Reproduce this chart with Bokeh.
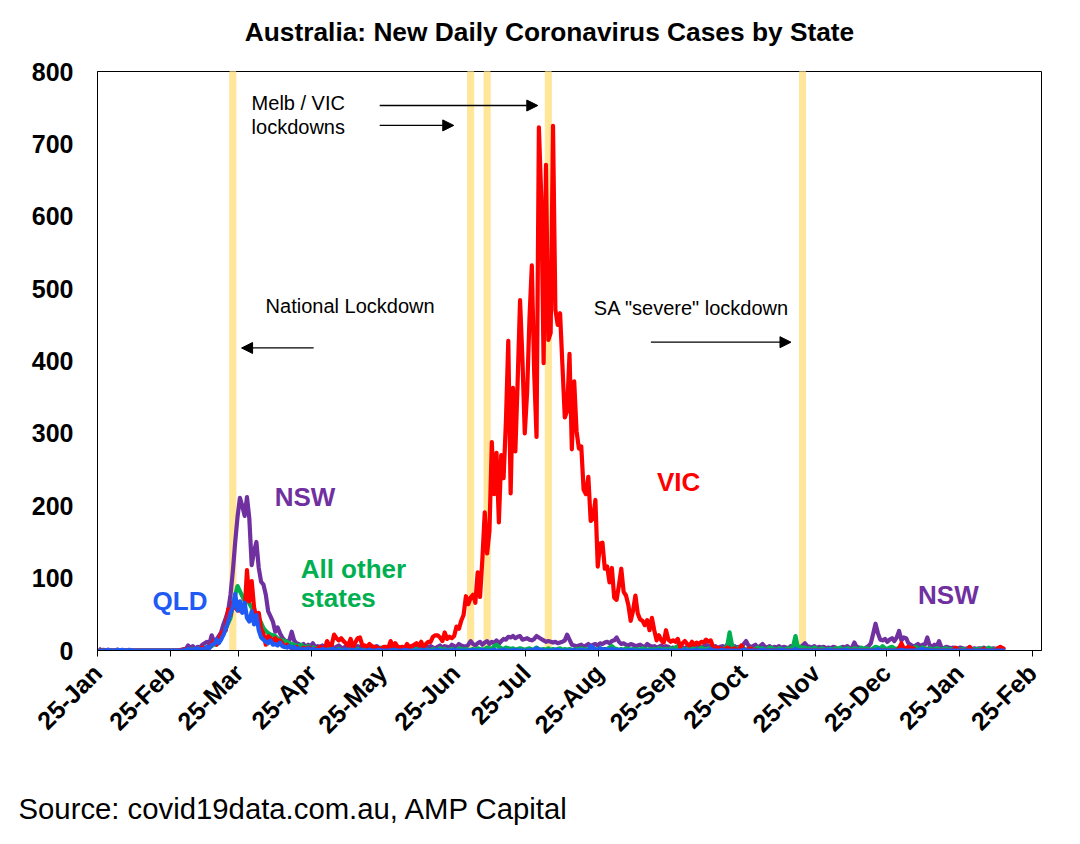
import numpy as np
import pandas as pd
from bokeh.plotting import figure
from bokeh.layouts import column
from bokeh.models import (Range1d, FixedTicker, DatetimeTickFormatter, Label,
                          Arrow, NormalHead)
from bokeh.embed import file_html
from bokeh.resources import INLINE

START = "2020-01-25"

# Daily new cases, one row per month (Jan-2020 row starts on 25-Jan)
vic = [
    1, 0, 0, 0, 1, 0, 0,
    0, 1, 0, 0, 0, 0, 0, 0, 0, 0, 0, 0, 0, 0, 0, 0, 0, 0, 0, 0, 0, 0, 0, 0, 0, 0, 0, 0, 1,
    0, 2, 1, 1, 1, 1, 3, 1, 4, 3, 2, 5, 9, 13, 8, 14, 23, 27, 28, 57, 49, 67, 59, 56, 55, 54, 54, 111, 68, 96, 60,
    45, 52, 30, 23, 8, 20, 17, 13, 17, 12, 14, 10, 5, 8, 5, 3, 3, 5, 2, 1, 4, 1, 4, 3, 1, 2, 2, 5, 3, 2,
    13, 7, 8, 22, 17, 14, 17, 13, 10, 7, 16, 5, 11, 17, 18, 7, 7, 5, 9, 6, 5, 4, 3, 1, 5, 5, 3, 13, 5, 10, 5,
    4, 5, 3, 9, 4, 6, 8, 10, 7, 12, 5, 9, 12, 12, 19, 21, 21, 18, 13, 25, 16, 19, 17, 20, 33, 30, 41, 49, 75, 64,
    73, 77, 66, 108, 74, 127, 191, 134, 165, 288, 216, 273, 177, 270, 238, 317, 428, 217, 363, 275,
    374, 484, 403, 300, 357, 459, 532, 384, 295, 723, 627,
    397, 671, 429, 439, 725, 471, 450, 466, 394, 322, 331, 410, 278, 372, 303, 279, 282, 222, 216, 240,
    179, 182, 208, 116, 148, 149, 113, 116, 94, 114, 73,
    70, 90, 113, 81, 76, 63, 41, 55, 76, 51, 43, 41, 35, 42, 28, 45, 28, 14, 21, 14, 11, 28, 15, 12, 14, 12, 16, 5, 10, 13,
    9, 7, 12, 8, 11, 9, 12, 11, 15, 12, 14, 5, 1, 4, 2, 2, 1, 4, 2, 1, 3, 1, 1, 7, 0, 0, 2, 3, 0, 1, 0,
    0, 0, 0, 0, 0, 0, 0, 0, 0, 0, 0, 0, 0, 0, 0, 0, 0, 0, 0, 0, 0, 0, 0, 0, 0, 0, 0, 0, 0, 0,
    0, 0, 0, 0, 0, 0, 0, 0, 0, 0, 0, 0, 0, 0, 0, 0, 0, 0, 0, 0, 0, 0, 0, 0, 0, 0, 0, 0, 0, 3, 10,
    3, 3, 5, 3, 3, 1, 0, 1, 0, 1, 1, 0, 0, 0, 0, 0, 0, 0, 0, 0, 0, 0, 4, 1, 0, 0, 0, 0, 5, 0, 0,
    0, 0, 1, 2, 0, 0, 0, 0, 1, 3, 5, 3, 1,
]

nsw = [
    3, 0, 1, 0, 0, 0, 0,
    0, 0, 0, 0, 0, 0, 0, 0, 0, 0, 0, 0, 0, 0, 0, 0, 0, 0, 0, 0, 0, 0, 0, 0, 0, 0, 0, 0, 0,
    2, 2, 7, 3, 6, 2, 5, 4, 8, 10, 12, 9, 21, 12, 15, 20, 25, 36, 45, 55, 77, 110, 150, 185, 211, 200, 186, 212, 182, 118, 137,
    150, 114, 95, 91, 77, 54, 47, 40, 26, 32, 24, 18, 14, 12, 14, 26, 14, 10, 9, 6, 9, 5, 8, 6, 10, 4, 6, 5, 7, 4,
    8, 4, 6, 3, 5, 7, 4, 3, 6, 5, 2, 4, 3, 6, 5, 2, 3, 4, 2, 5, 3, 6, 4, 3, 2, 4, 5, 3, 6, 4, 3,
    4, 2, 3, 5, 4, 6, 3, 4, 5, 3, 4, 2, 5, 6, 4, 3, 5, 7, 4, 6, 5, 4, 8, 6, 5, 9, 7, 6, 5, 8,
    13, 9, 7, 10, 12, 8, 11, 13, 9, 12, 10, 14, 9, 13, 16, 15, 19, 18, 20, 17, 19, 20, 15, 16, 17, 15, 14, 16, 20, 18, 16,
    14, 12, 13, 12, 11, 12, 10, 11, 12, 14, 22, 15, 8, 7, 6, 7, 8, 5, 7, 9, 6, 8, 9, 7, 10, 9, 11, 12, 10, 13, 14,
    18, 12, 9, 10, 8, 7, 9, 8, 6, 7, 8, 6, 5, 9, 7, 5, 6, 4, 5, 7, 4, 6, 5, 3, 4, 2, 5, 3, 4, 3,
    5, 4, 6, 3, 5, 7, 4, 6, 8, 5, 7, 4, 6, 3, 5, 6, 4, 8, 5, 7, 6, 4, 5, 3, 9, 13, 7, 5, 6, 8, 4,
    6, 9, 5, 4, 6, 3, 5, 4, 6, 3, 5, 4, 3, 6, 4, 5, 3, 4, 7, 10, 6, 5, 4, 6, 3, 5, 4, 5, 3, 4,
    3, 5, 4, 2, 3, 5, 4, 6, 3, 4, 11, 5, 4, 3, 2, 4, 6, 10, 23, 37, 24, 15, 14, 16, 12, 15, 17, 13, 18, 27, 14,
    18, 17, 10, 8, 5, 7, 9, 6, 8, 8, 18, 7, 5, 8, 6, 13, 4, 3, 5, 4, 3, 4, 2, 3, 4, 3, 2, 3, 4, 2, 3,
    2, 3, 2, 4, 2, 3, 2, 3, 2, 3, 2, 2, 3,
]

qld = [
    0, 0, 0, 0, 1, 0, 0,
    0, 1, 0, 1, 0, 0, 1, 0, 0, 0, 0, 0, 0, 0, 0, 0, 0, 0, 0, 0, 0, 0, 0, 0, 0, 0, 0, 0, 0,
    0, 1, 2, 1, 1, 2, 3, 1, 2, 2, 5, 3, 8, 9, 15, 10, 15, 22, 30, 40, 52, 60, 78, 55, 68, 52, 66, 45, 40, 54, 36,
    49, 28, 18, 15, 12, 10, 14, 8, 9, 7, 11, 6, 5, 4, 6, 3, 5, 2, 3, 1, 2, 1, 3, 1, 2, 1, 1, 0, 2, 1,
    1, 0, 2, 1, 0, 1, 0, 0, 1, 0, 0, 1, 0, 0, 1, 0, 0, 0, 1, 0, 0, 0, 1, 0, 0, 0, 0, 0, 1, 0, 0,
    0, 0, 1, 0, 0, 0, 0, 0, 0, 0, 1, 0, 0, 0, 0, 0, 1, 0, 0, 0, 0, 0, 0, 1, 0, 0, 0, 0, 0, 0,
    0, 1, 0, 0, 0, 1, 0, 0, 0, 0, 1, 0, 0, 0, 1, 0, 0, 0, 0, 1, 0, 0, 0, 0, 0, 0, 1, 0, 3, 1, 1,
    0, 0, 0, 0, 0, 1, 1, 0, 0, 0, 0, 0, 0, 1, 0, 0, 1, 0, 0, 0, 6, 4, 0, 1, 3, 1, 2, 1, 1, 2, 1,
    1, 0, 1, 0, 0, 0, 1, 0, 0, 0, 0, 0, 0, 0, 0, 0, 0, 0, 1, 0, 0, 0, 0, 0, 0, 0, 0, 0, 0, 1,
    0, 0, 0, 0, 1, 0, 0, 0, 0, 0, 2, 0, 0, 0, 0, 1, 0, 0, 0, 0, 0, 0, 0, 0, 1, 0, 0, 0, 0, 0, 0,
    0, 1, 0, 0, 0, 0, 0, 0, 0, 1, 0, 0, 0, 0, 0, 2, 0, 0, 0, 0, 0, 0, 0, 0, 0, 0, 0, 0, 0, 1,
    0, 0, 0, 0, 0, 0, 1, 0, 0, 0, 0, 0, 0, 0, 0, 0, 0, 0, 0, 0, 2, 0, 0, 0, 0, 0, 0, 0, 0, 0, 1,
    0, 0, 0, 0, 0, 0, 1, 1, 2, 0, 1, 0, 0, 0, 0, 0, 0, 0, 0, 0, 0, 0, 0, 0, 0, 0, 0, 0, 0, 0, 0,
    0, 0, 0, 0, 0, 0, 0, 0, 0, 0, 0, 0, 0,
]

other = [
    0, 0, 0, 0, 0, 0, 0,
    0, 1, 0, 0, 0, 0, 0, 0, 0, 0, 0, 0, 0, 0, 0, 0, 0, 0, 0, 0, 0, 0, 0, 0, 0, 0, 0, 0, 0,
    1, 0, 2, 1, 2, 1, 3, 2, 2, 4, 3, 5, 6, 9, 8, 12, 18, 22, 30, 38, 45, 62, 77, 89, 82, 75, 68, 72, 65, 59, 54,
    50, 45, 38, 31, 27, 24, 22, 21, 20, 17, 15, 14, 13, 12, 10, 9, 8, 7, 6, 8, 5, 4, 6, 3, 4, 3, 2, 3, 2, 2,
    1, 2, 1, 0, 1, 2, 1, 0, 1, 1, 0, 1, 0, 2, 1, 0, 1, 3, 1, 0, 1, 2, 1, 4, 1, 0, 2, 1, 0, 1, 2,
    1, 0, 1, 2, 1, 0, 1, 2, 1, 0, 2, 1, 1, 0, 2, 1, 1, 3, 1, 2, 0, 1, 2, 1, 0, 3, 2, 1, 2, 1,
    1, 2, 1, 3, 2, 1, 2, 4, 3, 2, 6, 8, 5, 3, 2, 4, 3, 2, 3, 1, 2, 3, 2, 1, 2, 3, 1, 2, 4, 2, 1,
    2, 1, 3, 1, 2, 1, 2, 3, 1, 2, 1, 2, 1, 1, 2, 1, 3, 1, 2, 1, 2, 1, 2, 1, 3, 2, 1, 2, 4, 6, 3,
    2, 1, 2, 1, 3, 2, 1, 2, 1, 2, 1, 3, 2, 1, 2, 1, 2, 1, 3, 2, 1, 2, 1, 3, 2, 4, 6, 3, 2, 1,
    2, 1, 2, 3, 1, 2, 4, 2, 1, 3, 2, 1, 2, 3, 2, 1, 3, 6, 25, 8, 3, 2, 4, 2, 3, 1, 2, 3, 1, 2, 4,
    2, 3, 1, 2, 4, 3, 2, 1, 3, 2, 1, 2, 3, 2, 6, 20, 4, 5, 3, 4, 2, 3, 1, 4, 2, 1, 3, 2, 1, 2,
    2, 1, 3, 2, 4, 1, 2, 3, 2, 1, 3, 2, 1, 4, 2, 3, 2, 1, 3, 5, 4, 2, 6, 3, 2, 4, 5, 3, 2, 4, 3,
    3, 2, 4, 3, 2, 5, 3, 2, 4, 3, 2, 3, 1, 2, 3, 2, 1, 2, 3, 1, 2, 1, 3, 2, 1, 2, 1, 2, 1, 2, 1,
    2, 1, 3, 2, 1, 4, 2, 1, 2, 1, 2, 1, 1,
]

y_ticks = [0, 100, 200, 300, 400, 500, 600, 700, 800]
tick_dates = [d.strftime("%Y-%m-%d") for d in
              pd.date_range("2020-01-25", "2021-02-25", freq=pd.DateOffset(months=1))]
band_dates = ["2020-03-22", "2020-07-01", "2020-07-08", "2020-08-03", "2020-11-19"]

TITLE = "Australia: New Daily Coronavirus Cases by State"
SOURCE = "Source: covid19data.com.au, AMP Capital"

FONT = "Liberation Sans"
DAY_MS = 86400000.0
HALF_DAY = pd.Timedelta(hours=12)
W = 1064


def ms(ts):
    return pd.Timestamp(ts).value / 1e6


def day_x(s):
    return pd.date_range(START, periods=len(s), freq="D") + HALF_DAY


def no_align(f):
    if "frame_align" in f.properties():
        f.frame_align = False


def text_strip(height, x, y, text, size, bold, align):
    """A plain strip of page (pixel coordinates) holding one line of text."""
    f = figure(width=W, height=height, x_range=Range1d(0, W), y_range=Range1d(height, 0),
               x_axis_location=None, y_axis_location=None, toolbar_location=None,
               output_backend="svg", min_border=0)
    no_align(f)
    f.outline_line_color = None
    f.grid.visible = False
    f.title.visible = False
    f.background_fill_color = "white"
    f.border_fill_color = "white"
    f.add_layout(Label(x=x, y=y, text=text, text_font=FONT, text_font_size=size,
                       text_font_style="bold" if bold else "normal", text_color="black",
                       text_align=align, text_baseline="middle"))
    return f


head = text_strip(50, 549, 31, TITLE, "26.3px", True, "center")

p = figure(width=W, height=701, x_axis_type="datetime",
           x_range=Range1d(ms("2020-01-25"), ms("2021-03-01")),
           y_range=Range1d(0, 800),
           output_backend="svg", toolbar_location=None,
           min_border_left=97, min_border_right=23,
           min_border_top=21, min_border_bottom=100)
no_align(p)
p.title.visible = False
p.xgrid.visible = False
p.ygrid.visible = False
p.outline_line_color = "black"
p.outline_line_width = 1
p.outline_line_alpha = 1
p.background_fill_color = "white"
p.border_fill_color = "white"

# lockdown bands
p.vbar(x=[pd.Timestamp(d) + HALF_DAY for d in band_dates], width=2.6 * DAY_MS,
       top=800, bottom=0, color="#FFE699")

series = [(nsw, "#7030A0"), (other, "#00B050"), (vic, "#FF0000"), (qld, "#1F5AF5")]
for vals, col in series:
    p.line(x=day_x(vals), y=vals, line_color=col, line_width=4.2, line_join="round")

# axes
p.yaxis.ticker = FixedTicker(ticks=y_ticks)
p.yaxis.major_label_text_font = FONT
p.yaxis.major_label_text_font_size = "25px"
p.yaxis.major_label_text_font_style = "bold"
p.yaxis.major_label_text_color = "black"
p.yaxis.major_tick_line_color = None
p.yaxis.minor_tick_line_color = None
p.yaxis.major_tick_out = 0
p.yaxis.major_tick_in = 0
p.yaxis.major_label_standoff = 24
p.yaxis.axis_line_color = "black"

p.xaxis.ticker = FixedTicker(ticks=[ms(d) for d in tick_dates])
p.xaxis.formatter = DatetimeTickFormatter(days="%d-%b", months="%d-%b", years="%d-%b",
                                          hours="%d-%b", hourmin="%d-%b")
p.xaxis.major_label_orientation = np.pi / 4
p.xaxis.major_label_text_font = FONT
p.xaxis.major_label_text_font_size = "25px"
p.xaxis.major_label_text_font_style = "bold"
p.xaxis.major_label_text_color = "black"
p.xaxis.major_tick_out = 6
p.xaxis.major_tick_in = 0
p.xaxis.major_tick_line_color = "black"
p.xaxis.minor_tick_line_color = None
p.xaxis.major_label_standoff = 12
p.xaxis.axis_line_color = "black"


def label(x, y, text, size, color="black", bold=False, align="left"):
    p.add_layout(Label(x=ms(x), y=y, text=text, text_font=FONT, text_font_size=size,
                       text_font_style="bold" if bold else "normal", text_color=color,
                       text_align=align, text_baseline="middle"))


def arrow(x0, x1, y):
    p.add_layout(Arrow(end=NormalHead(size=11, fill_color="black", line_color="black", line_width=1),
                       x_start=ms(x0), y_start=y, x_end=ms(x1), y_end=y,
                       line_color="black", line_width=1.3))


label("2020-03-30 11:00", 756, "Melb / VIC", "20px")
label("2020-03-30 11:00", 724, "lockdowns", "20px")
arrow("2020-05-23 21:00", "2020-07-30 00:45", 753)
arrow("2020-05-23 21:00", "2020-06-24 08:00", 725.5)

label("2020-04-05 10:00", 476, "National Lockdown", "20px")
arrow("2020-04-25 19:40", "2020-03-26 05:00", 418)

label("2020-08-22 20:00", 473, 'SA "severe" lockdown', "20px")
arrow("2020-09-16 01:40", "2020-11-14 14:00", 426)

label("2020-04-09 06:00", 212, "NSW", "26px", color="#7030A0", bold=True)
label("2020-04-20 07:00", 112, "All other", "26px", color="#00B050", bold=True)
label("2020-04-20 07:00", 72, "states", "26px", color="#00B050", bold=True)
label("2020-02-17 09:00", 69, "QLD", "26px", color="#1F5AF5", bold=True)
label("2020-09-18 15:00", 233, "VIC", "26px", color="#FF0000", bold=True)
label("2021-01-07 13:30", 77, "NSW", "26px", color="#7030A0", bold=True)

foot = text_strip(90, 18, 57, SOURCE, "29.3px", False, "left")

page = column(head, p, foot, spacing=0)
open("out.html", "w").write(file_html(page, INLINE))
